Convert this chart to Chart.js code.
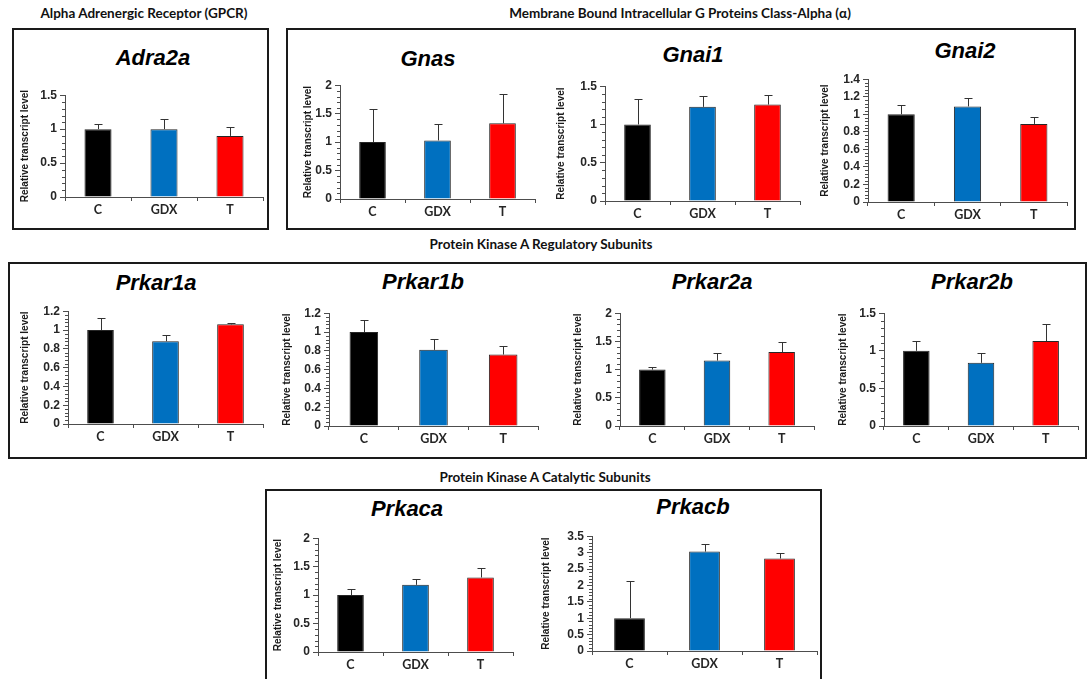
<!DOCTYPE html>
<html>
<head>
<meta charset="utf-8">
<script src="https://cdn.jsdelivr.net/npm/chart.js@4.4.1/dist/chart.umd.min.js"></script>
<style>
    body { margin: 0; background: #fff; }
    #page { position: relative; width: 1088px; height: 679px; overflow: hidden; background: #fff; }
    .box { position: absolute; border: 2px solid #1a1a1a; box-sizing: border-box; }
    .group { position: absolute; transform: translate(-50%, -50%); font: bold 13.5px Lato, "Open Sans", sans-serif; color: #111; white-space: nowrap; }
    .gene { position: absolute; transform: translate(-50%, -50%); font: italic bold 22px "Liberation Sans", Arial, sans-serif; color: #000; white-space: nowrap; }
    .cv { position: absolute; }
</style>
</head>
<body>
<div id="page"></div>
<script>
// data (mean and upper error = SEM)
const categories = ["C", "GDX", "T"];

const adra2a_mean = [1.0, 1.0, 0.9];
const adra2a_sem = [0.07, 0.15, 0.13];
const gnas_mean = [1.0, 1.03, 1.33];
const gnas_sem = [0.58, 0.29, 0.51];
const gnai1_mean = [1.0, 1.23, 1.26];
const gnai1_sem = [0.33, 0.14, 0.12];
const gnai2_mean = [1.0, 1.09, 0.89];
const gnai2_sem = [0.11, 0.10, 0.08];
const prkar1a_mean = [1.0, 0.88, 1.06];
const prkar1a_sem = [0.13, 0.07, 0.01];
const prkar1b_mean = [1.0, 0.81, 0.76];
const prkar1b_sem = [0.13, 0.12, 0.09];
const prkar2a_mean = [1.0, 1.16, 1.31];
const prkar2a_sem = [0.05, 0.13, 0.18];
const prkar2b_mean = [1.0, 0.84, 1.13];
const prkar2b_sem = [0.13, 0.13, 0.22];
const prkaca_mean = [1.0, 1.18, 1.31];
const prkaca_sem = [0.11, 0.10, 0.17];
const prkacb_mean = [1.0, 3.03, 2.82];
const prkacb_sem = [1.12, 0.22, 0.18];

// y axis range / tick step of each panel
const y_max = { Adra2a: 1.5, Gnas: 2, Gnai1: 1.5, Gnai2: 1.4, Prkar1a: 1.2, Prkar1b: 1.2, Prkar2a: 2, Prkar2b: 1.5, Prkaca: 2, Prkacb: 3.5 };
const y_step = { Adra2a: 0.5, Gnas: 0.5, Gnai1: 0.5, Gnai2: 0.2, Prkar1a: 0.2, Prkar1b: 0.2, Prkar2a: 0.5, Prkar2b: 0.5, Prkaca: 0.5, Prkacb: 0.5 };

const genes = [
    ["Adra2a", adra2a_mean, adra2a_sem],
    ["Gnas", gnas_mean, gnas_sem],
    ["Gnai1", gnai1_mean, gnai1_sem],
    ["Gnai2", gnai2_mean, gnai2_sem],
    ["Prkar1a", prkar1a_mean, prkar1a_sem],
    ["Prkar1b", prkar1b_mean, prkar1b_sem],
    ["Prkar2a", prkar2a_mean, prkar2a_sem],
    ["Prkar2b", prkar2b_mean, prkar2b_sem],
    ["Prkaca", prkaca_mean, prkaca_sem],
    ["Prkacb", prkacb_mean, prkacb_sem],
];

const group_titles = [
    ["Alpha Adrenergic Receptor (GPCR)", 144, 13],
    ["Membrane Bound Intracellular G Proteins Class-Alpha (\u03b1)", 680, 13],
    ["Protein Kinase A Regulatory Subunits", 541, 244],
    ["Protein Kinase A Catalytic Subunits", 545, 477],
];

// page layout (pixels)
const boxes = [
    [12, 28, 257, 202],
    [286, 28, 790, 202],
    [8, 262, 1079, 197],
    [265, 489, 557, 200],
];

const panel_layout = {
    Adra2a:  { axisX: 65,  xEnd: 263,  topY: 93,  zeroY: 197, labelX: 25,  titleX: 153, titleY: 58 },
    Gnas:    { axisX: 340, xEnd: 535,  topY: 83,  zeroY: 199, labelX: 308, titleX: 428, titleY: 59 },
    Gnai1:   { axisX: 605, xEnd: 800,  topY: 84,  zeroY: 201, labelX: 561, titleX: 693, titleY: 55 },
    Gnai2:   { axisX: 868, xEnd: 1067, topY: 77,  zeroY: 202, labelX: 825, titleX: 965, titleY: 51 },
    Prkar1a: { axisX: 68,  xEnd: 263,  topY: 309, zeroY: 424, labelX: 25,  titleX: 156, titleY: 283 },
    Prkar1b: { axisX: 329, xEnd: 538,  topY: 311, zeroY: 426, labelX: 287, titleX: 423, titleY: 282 },
    Prkar2a: { axisX: 620, xEnd: 814,  topY: 311, zeroY: 426, labelX: 578, titleX: 712, titleY: 282 },
    Prkar2b: { axisX: 884, xEnd: 1078, topY: 311, zeroY: 426, labelX: 843, titleX: 972, titleY: 282 },
    Prkaca:  { axisX: 318, xEnd: 513,  topY: 536, zeroY: 652, labelX: 278, titleX: 407, titleY: 509 },
    Prkacb:  { axisX: 592, xEnd: 817,  topY: 534, zeroY: 651, labelX: 546, titleX: 693, titleY: 507 },
};

const bar_colors = ["#000000", "#0070c0", "#ff0000"];
const axis_color = "#4d4d4d";

const page = document.getElementById("page");

// upper error bars, positioned with the chart's own scales
const error_bars = {
    id: "error_bars",
    afterDatasetsDraw(chart) {
        const ctx = chart.ctx;
        const y = chart.scales.y;
        const ds = chart.data.datasets[0];
        const meta = chart.getDatasetMeta(0);
        ctx.save();
        ctx.strokeStyle = "#333";
        ctx.lineWidth = 1;
        meta.data.forEach((bar, i) => {
            const x = Math.round(bar.x) + 0.5;
            const top = Math.round(y.getPixelForValue(ds.data[i] + ds.sem[i])) + 0.5;
            ctx.beginPath();
            ctx.moveTo(x, bar.y);
            ctx.lineTo(x, top);
            ctx.moveTo(x - 4, top);
            ctx.lineTo(x + 4, top);
            ctx.stroke();
        });
        ctx.restore();
    }
};

// minor tick marks on the y axis (major step / 5)
const minor_ticks = {
    id: "minor_ticks",
    afterDraw(chart) {
        const ctx = chart.ctx;
        const y = chart.scales.y;
        const step = chart.options.scales.y.ticks.stepSize / 5;
        const n = Math.round(y.max / step);
        const x0 = chart.chartArea.left;
        ctx.save();
        ctx.strokeStyle = axis_color;
        ctx.lineWidth = 1;
        ctx.beginPath();
        for (let i = 1; i < n; i++) {
            if (i % 5 === 0) continue;
            const py = Math.round(y.getPixelForValue(i * step)) + 0.5;
            ctx.moveTo(x0 - 3, py);
            ctx.lineTo(x0, py);
        }
        ctx.stroke();
        ctx.restore();
    }
};

const add_div = (cls, text, x, y) => {
    const d = document.createElement("div");
    d.className = cls;
    d.textContent = text;
    d.style.left = x + "px";
    d.style.top = y + "px";
    page.appendChild(d);
};

boxes.forEach(b => {
    const d = document.createElement("div");
    d.className = "box";
    d.style.left = b[0] + "px";
    d.style.top = b[1] + "px";
    d.style.width = b[2] + "px";
    d.style.height = b[3] + "px";
    page.appendChild(d);
});

group_titles.forEach(g => add_div("group", g[0], g[1], g[2]));

const draw_panel = (name, mean, sem) => {
    const p = panel_layout[name];
    const left = Math.round(p.labelX - 8);
    const top = p.topY - 8;
    const width = p.xEnd - left + 4;
    const height = p.zeroY + 24 - top;
    const y_width = p.axisX - left;

    const wrap = document.createElement("div");
    wrap.className = "cv";
    wrap.style.left = left + "px";
    wrap.style.top = top + "px";
    const canvas = document.createElement("canvas");
    canvas.width = width;
    canvas.height = height;
    canvas.style.width = width + "px";
    canvas.style.height = height + "px";
    wrap.appendChild(canvas);
    page.appendChild(wrap);

    add_div("gene", name, p.titleX, p.titleY);

    new Chart(canvas, {
        type: "bar",
        data: {
            labels: categories,
            datasets: [{
                data: mean,
                sem: sem,
                backgroundColor: bar_colors,
                borderColor: "#262626",
                borderWidth: 1,
                barPercentage: 0.41,
                categoryPercentage: 1
            }]
        },
        options: {
            responsive: false,
            animation: false,
            layout: { padding: { top: 8, right: 4, left: 0, bottom: 0 } },
            plugins: {
                legend: { display: false },
                tooltip: { enabled: false },
                title: { display: false }
            },
            scales: {
                x: {
                    grid: { offset: true, drawOnChartArea: false, tickLength: 4, tickColor: axis_color },
                    border: { color: axis_color },
                    ticks: { padding: 1, color: "#262626", font: { family: "Lato", weight: "bold", size: 12.5 } },
                    afterFit: (s) => { s.height = 24; }
                },
                y: {
                    min: 0,
                    max: y_max[name],
                    ticks: {
                        stepSize: y_step[name],
                        autoSkip: false,
                        padding: 3,
                        color: "#262626",
                        font: { family: "Liberation Sans", weight: "bold", size: 12 },
                        callback: (v) => String(Math.round(v * 100) / 100)
                    },
                    grid: { drawOnChartArea: false, tickLength: 5, tickColor: axis_color },
                    border: { color: axis_color },
                    title: {
                        display: true,
                        text: "Relative transcript level",
                        color: "#1a1a1a",
                        padding: { top: 2, bottom: 2 },
                        font: { family: "Liberation Sans", weight: "bold", size: 10 }
                    },
                    afterFit: (s) => { s.width = y_width; }
                }
            }
        },
        plugins: [error_bars, minor_ticks]
    });
};

for (let i = 0; i < genes.length; i++) {
    draw_panel(genes[i][0], genes[i][1], genes[i][2]);
}
</script>
</body>
</html>
